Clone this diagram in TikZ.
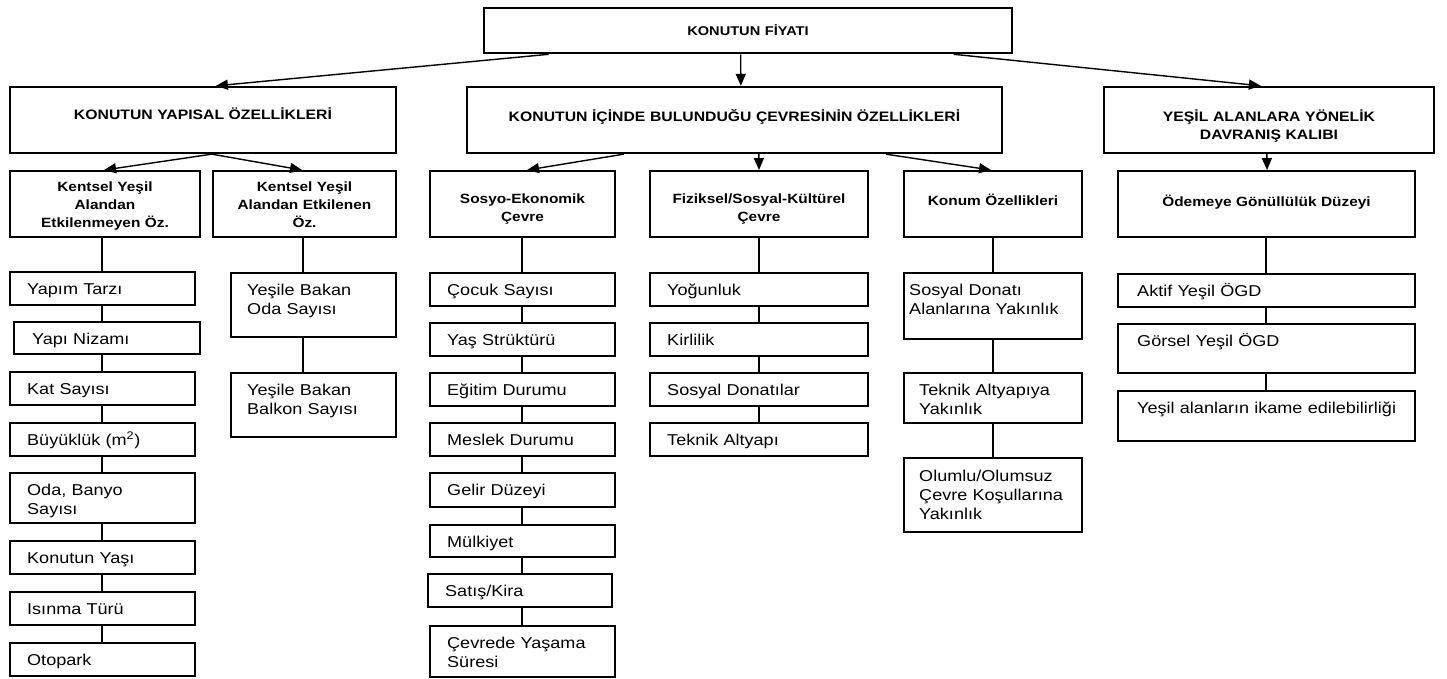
\documentclass[tikz,border=0pt]{standalone}
\usepackage{fontspec}
\setmainfont{Liberation Sans}[FakeStretch=1.15]
\usetikzlibrary{arrows.meta,fit}
\tikzset{
  tbx/.style={draw, line width=2.6pt, inner sep=0pt},
  lbx/.style={draw, line width=2.3pt, inner sep=0pt},
  hbx/.style={draw, line width=1.9pt, inner sep=0pt},
  ibx/.style={draw, line width=1.6pt, inner sep=0pt},
  itext/.style={inner sep=0pt, align=left, font=\fontsize{15.7}{19}\selectfont},
  htext/.style={inner sep=0pt, align=center, font=\bfseries\fontsize{13.4}{17.7}\selectfont},
  ltext/.style={inner sep=0pt, align=center, font=\bfseries\fontsize{13.7}{17.5}\selectfont},
  conn/.style={line width=1.4pt},
  arr/.style={line width=1.4pt, -{Triangle[length=12pt,width=10pt]}}
}
% item box: name, x1, y1, x2, y2, text, inset, first-baseline offset
\newcommand\itm[8]{%
  \node[ibx, fit={(#2,#3) (#4,#5)}] (#1) {};
  \pgfmathsetmacro\tw{#4-#2-#7-2}
  \node[itext, text width=\tw pt, anchor=base west] (#1t) at (#2+#7,#3+#8) {#6};}
% header box: name, style, x1, y1, x2, y2, baseline y, text style, text
\newcommand\hdr[9]{%
  \node[#2, fit={(#3,#4) (#5,#6)}] (#1) {};
  \pgfmathsetmacro\tw{#5-#3-6}
  \node[#8, text width=\tw pt, anchor=base] (#1t) at ({(#3+#5)/2},#7) {#9};}
\begin{document}
\begin{tikzpicture}[x=1pt,y=-1pt]
\fill[white] (0,0) rectangle (1447,679);
\useasboundingbox (0,0) rectangle (1447,679);

% level 1
\hdr{T}{tbx}{484}{8}{1012}{53}{36}{ltext}{\fontsize{12.7}{15}\selectfont KONUTUN FİYATI}
% level 2
\hdr{La}{lbx}{10}{87}{396}{153}{120}{ltext}{KONUTUN YAPISAL ÖZELLİKLERİ}
\hdr{Lb}{lbx}{467}{87}{1002}{153}{122}{ltext}{KONUTUN İÇİNDE BULUNDUĞU ÇEVRESİNİN ÖZELLİKLERİ}
\hdr{Lc}{lbx}{1104}{87}{1434}{153}{122}{ltext}{YEŞİL ALANLARA YÖNELİK\\DAVRANIŞ KALIBI}
% level 3
\hdr{hA}{hbx}{10}{171}{200}{237}{192}{htext}{Kentsel Yeşil\\Alandan\\Etkilenmeyen Öz.}
\hdr{hB}{hbx}{213}{171}{396}{237}{192}{htext}{Kentsel Yeşil\\Alandan Etkilenen\\Öz.}
\hdr{hC}{hbx}{430}{171}{615}{237}{204}{htext}{Sosyo-Ekonomik\\Çevre}
\hdr{hD}{hbx}{650}{171}{868}{237}{204}{htext}{Fiziksel/Sosyal-Kültürel\\Çevre}
\hdr{hE}{hbx}{904}{171}{1082}{237}{205}{htext}{Konum Özellikleri}
\hdr{hF}{hbx}{1118}{171}{1415}{237}{206}{htext}{Ödemeye Gönüllülük Düzeyi}

% column A
\itm{a1}{10}{272}{195}{305}{Yapım Tarzı}{17}{22}
\itm{a2}{14}{322}{200}{354}{Yapı Nizamı}{18}{22}
\itm{a3}{10}{372}{195}{405}{Kat Sayısı}{17}{22}
\itm{a4}{10}{423}{195}{456}{Büyüklük (m\textsuperscript{2})}{17}{22}
\itm{a5}{10}{473}{195}{523}{Oda, Banyo\\Sayısı}{17}{22}
\itm{a6}{10}{541}{195}{574}{Konutun Yaşı}{17}{22}
\itm{a7}{10}{592}{195}{625}{Isınma Türü}{17}{22}
\itm{a8}{10}{643}{195}{676}{Otopark}{17}{22}
% column B
\itm{b1}{231}{273}{396}{337}{Yeşile Bakan\\Oda Sayısı}{16}{22}
\itm{b2}{231}{373}{396}{437}{Yeşile Bakan\\Balkon Sayısı}{16}{22}
% column C
\itm{c1}{430}{273}{615}{306}{Çocuk Sayısı}{17}{22}
\itm{c2}{430}{323}{615}{356}{Yaş Strüktürü}{17}{22}
\itm{c3}{430}{373}{615}{406}{Eğitim Durumu}{17}{22}
\itm{c4}{430}{423}{615}{456}{Meslek Durumu}{17}{22}
\itm{c5}{430}{473}{615}{507}{Gelir Düzeyi}{17}{22}
\itm{c6}{430}{525}{615}{557}{Mülkiyet}{17}{22}
\itm{c7}{428}{574}{612}{607}{Satış/Kira}{17}{22}
\itm{c8}{430}{626}{615}{677}{Çevrede Yaşama\\Süresi}{17}{22}
% column D
\itm{d1}{650}{273}{868}{306}{Yoğunluk}{17}{22}
\itm{d2}{650}{323}{868}{356}{Kirlilik}{17}{22}
\itm{d3}{650}{373}{868}{406}{Sosyal Donatılar}{17}{22}
\itm{d4}{650}{423}{868}{456}{Teknik Altyapı}{17}{22}
% column E
\itm{e1}{904}{273}{1082}{339}{Sosyal Donatı\\Alanlarına Yakınlık}{5}{22}
\itm{e2}{904}{373}{1082}{423}{Teknik Altyapıya\\Yakınlık}{15}{22}
\itm{e3}{904}{458}{1082}{532}{Olumlu/Olumsuz\\Çevre Koşullarına\\Yakınlık}{15}{23}
% column F
\itm{f1}{1118}{274}{1415}{307}{Aktif Yeşil ÖGD}{19}{22}
\itm{f2}{1118}{324}{1415}{373}{Görsel Yeşil ÖGD}{19}{22}
\itm{f3}{1118}{391}{1415}{441}{Yeşil alanların ikame edilebilirliği}{19}{22}

% arrows between levels
\draw[arr] ([xshift=66pt]T.south west) -- ([xshift=207pt]La.north west);
\draw[arr] ([xshift=258pt]T.south west) -- ([xshift=275pt]Lb.north west);
\draw[arr] ([xshift=471pt]T.south west) -- ([xshift=158pt]Lc.north west);
\draw[arr] ([xshift=203pt]La.south west) -- ([xshift=95pt]hA.north west);
\draw[arr] ([xshift=203pt]La.south west) -- ([xshift=90pt]hB.north west);
\draw[arr] ([xshift=158pt]Lb.south west) -- ([xshift=98pt]hC.north west);
\draw[arr] ([xshift=293pt]Lb.south west) -- ([xshift=110pt]hD.north west);
\draw[arr] ([xshift=420pt]Lb.south west) -- ([xshift=88pt]hE.north west);
\draw[arr] ([xshift=164pt]Lc.south west) -- ([xshift=150pt]hF.north west);

% vertical connectors
\coordinate (xA) at (102,0);
\coordinate (xB) at (303,0);
\coordinate (xC) at (522,0);
\coordinate (xD) at (759,0);
\coordinate (xE) at (993,0);
\coordinate (xF) at (1266,0);
\foreach \c/\u/\v in {A/hA/a1,A/a1/a2,A/a2/a3,A/a3/a4,A/a4/a5,A/a5/a6,A/a6/a7,A/a7/a8,
  B/hB/b1,B/b1/b2,
  C/hC/c1,C/c1/c2,C/c2/c3,C/c3/c4,C/c4/c5,C/c5/c6,C/c6/c7,C/c7/c8,
  D/hD/d1,D/d1/d2,D/d2/d3,D/d3/d4,
  E/hE/e1,E/e1/e2,E/e2/e3,
  F/hF/f1,F/f1/f2,F/f2/f3}
  \draw[conn] (x\c |- \u.south) -- (x\c |- \v.north);
\end{tikzpicture}
\end{document}
